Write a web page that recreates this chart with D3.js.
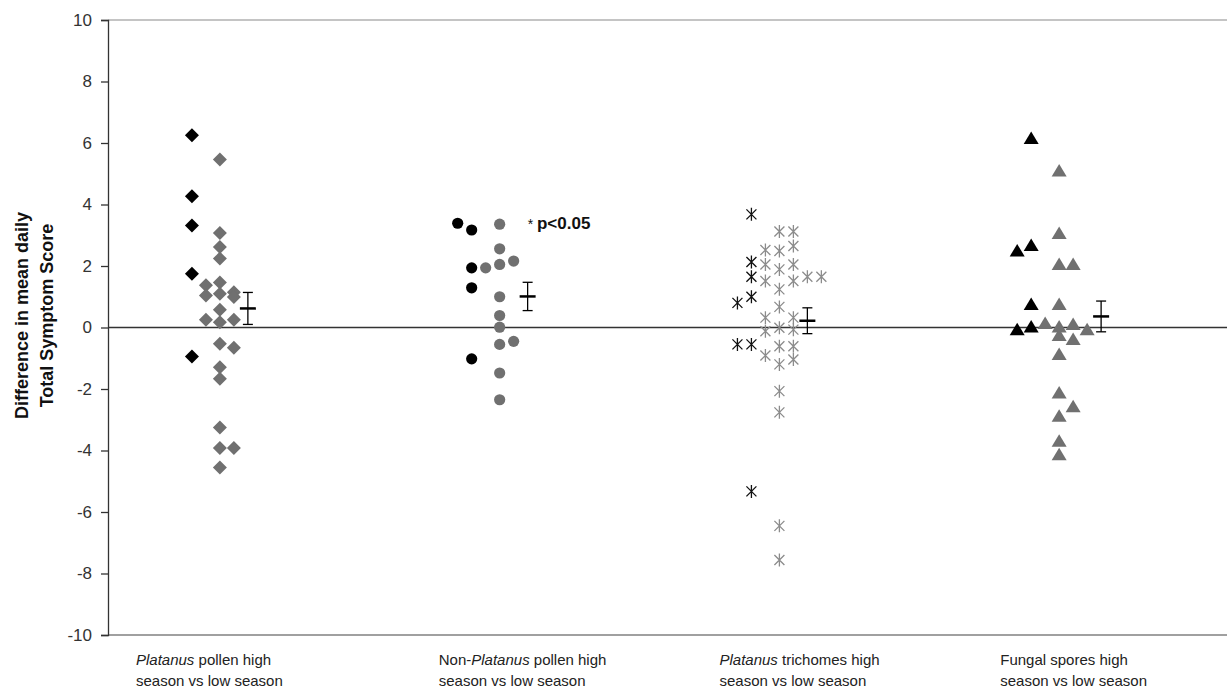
<!DOCTYPE html>
<html>
<head>
<meta charset="utf-8">
<script src="https://cdn.jsdelivr.net/npm/d3@7"></script>
<style>
  body { margin: 0; background: #fff; }
  text { font-family: Arial, "Liberation Sans", sans-serif; }
</style>
</head>
<body>
<script>
// category labels, _italic_ parts marked with underscores
var catLine1 = ["_Platanus_ pollen high", "Non-_Platanus_ pollen high", "_Platanus_ trichomes high", "Fungal spores high"];
var catLine2 = ["season vs low season", "season vs low season", "season vs low season", "season vs low season"];
var yTicks = [-10, -8, -6, -4, -2, 0, 2, 4, 6, 8, 10];

// points: [value, column in the dot strip]
var pollenBlack = [[6.25,-4],[4.27,-4],[3.32,-4],[1.75,-4],[-0.94,-4]];
var pollenGrey = [[5.46,-2],[3.07,-2],[2.62,-2],[2.24,-2],[1.37,-3],[1.46,-2],[1.04,-3],[1.10,-2],[1.15,-1],[0.99,-1],
  [0.58,-2],[0.25,-3],[0.17,-2],[0.25,-1],[-0.53,-2],[-0.66,-1],[-1.29,-2],[-1.67,-2],[-3.25,-2],[-3.92,-2],[-3.92,-1],[-4.55,-2]];

var nonPlatBlack = [[3.39,-5],[3.17,-4],[1.94,-4],[1.29,-4],[-1.02,-4]];
var nonPlatGrey = [[3.36,-2],[2.56,-2],[1.94,-3],[2.05,-2],[2.16,-1],[1.0,-2],[0.39,-2],[0.01,-2],[-0.55,-2],[-0.45,-1],[-1.48,-2],[-2.35,-2]];

var trichBlack = [[3.68,-4],[2.13,-4],[1.65,-4],[1.0,-4],[0.8,-5],[-0.55,-5],[-0.55,-4],[-5.33,-4]];
var trichGrey = [[3.12,-2],[3.12,-1],[2.52,-3],[2.49,-2],[2.65,-1],[2.05,-3],[1.89,-2],[2.05,-1],[1.65,0],[1.65,1],
  [1.51,-3],[1.51,-1],[1.24,-2],[0.67,-2],[0.32,-3],[0.32,-1],[-0.12,-3],[-0.01,-2],[-0.07,-1],[-0.61,-2],
  [-0.61,-1],[-0.91,-3],[-1.04,-1],[-1.2,-2],[-2.07,-2],[-2.76,-2],[-6.45,-2],[-7.56,-2]];

var fungalBlack = [[6.15,-4],[2.49,-5],[2.67,-4],[0.75,-4],[-0.07,-5],[0.02,-4]];
var fungalGrey = [[5.09,-2],[3.06,-2],[2.05,-2],[2.05,-1],[0.75,-2],[0.13,-3],[0.02,-2],[0.1,-1],[-0.07,0],
  [-0.26,-2],[-0.39,-1],[-0.88,-2],[-2.13,-2],[-2.58,-1],[-2.89,-2],[-3.7,-2],[-4.14,-2]];

var means = [0.62, 1.01, 0.22, 0.36];
var errs = [0.52, 0.46, 0.42, 0.50];
var meanCol = [0, 0, 0, 1];

var width = 1227, height = 690;
var margin = {left: 108, right: 0, top: 20, bottom: 55};

var svg = d3.select("body").append("svg")
  .attr("width", width).attr("height", height);

var x = d3.scaleBand().domain([0, 1, 2, 3]).range([margin.left, width - margin.right]);
var y = d3.scaleLinear().domain([-10, 10]).range([height - margin.bottom, margin.top]);
var colW = x.bandwidth() / 20;
function cx(i, col) { return x(i) + x.bandwidth() / 2 + col * colW; }

// frame lines
svg.append("line").attr("x1", x.range()[0]).attr("x2", width).attr("y1", y(10)).attr("y2", y(10))
  .attr("stroke", "#b0b0b0").attr("stroke-width", 1.3);
svg.append("line").attr("x1", x.range()[0]).attr("x2", width).attr("y1", y(-10)).attr("y2", y(-10))
  .attr("stroke", "#808080").attr("stroke-width", 1.3);

// y axis
var yAxis = svg.append("g").attr("transform", "translate(" + margin.left + ",0)")
  .call(d3.axisLeft(y).tickValues(yTicks).tickSize(7).tickPadding(9).tickFormat(function(d) { return String(d); }));
yAxis.select(".domain").attr("stroke", "#333").attr("stroke-width", 1.3);
yAxis.selectAll(".tick line").attr("stroke", "#333").attr("stroke-width", 1.3);
yAxis.selectAll(".tick text").attr("font-size", 17).attr("fill", "#333")
  .attr("font-family", "Arial, 'Liberation Sans', sans-serif");

// zero line
svg.append("line").attr("x1", margin.left).attr("x2", width).attr("y1", y(0)).attr("y2", y(0))
  .attr("stroke", "#333").attr("stroke-width", 1.3);

// y title
var yt = svg.append("text").attr("transform", "translate(22," + (y(0) - 12) + ") rotate(-90)")
  .attr("text-anchor", "middle").attr("font-weight", "bold").attr("font-size", 18).attr("fill", "#111");
yt.append("tspan").attr("x", 0).attr("dy", "0.35em").text("Difference in mean daily");
yt.append("tspan").attr("x", 0).attr("dy", 25).text("Total Symptom Score");

// category labels
var labelOffset = [28, 51, 52, 53];
catLine1.forEach(function(s, i) {
  var t = svg.append("text").attr("x", x(i) + labelOffset[i]).attr("y", 665)
    .attr("font-size", 15).attr("fill", "#222");
  s.split("_").forEach(function(part, k) {
    if (part) t.append("tspan").attr("font-style", k % 2 ? "italic" : "normal").text(part);
  });
  svg.append("text").attr("x", x(i) + labelOffset[i]).attr("y", 686)
    .attr("font-size", 15).attr("fill", "#222").text(catLine2[i]);
});

var grey = "#707070";
var greyStar = "#8c8c8c";

// markers
function diamond(g, data, i, fill) {
  g.selectAll(null).data(data).enter().append("path")
    .attr("d", "M0,-7L7,0L0,7L-7,0Z")
    .attr("transform", function(d) { return "translate(" + cx(i, d[1]) + "," + y(d[0]) + ")"; })
    .attr("fill", fill);
}
function circle(g, data, i, fill) {
  g.selectAll(null).data(data).enter().append("circle")
    .attr("cx", function(d) { return cx(i, d[1]); })
    .attr("cy", function(d) { return y(d[0]); })
    .attr("r", 5.6).attr("fill", fill);
}
function star(g, data, i, col) {
  g.selectAll(null).data(data).enter().append("path")
    .attr("d", "M-5,-5L5,5M-5,5L5,-5M0,-6.5L0,6.5")
    .attr("transform", function(d) { return "translate(" + cx(i, d[1]) + "," + y(d[0]) + ")"; })
    .attr("stroke", col).attr("stroke-width", 1.3).attr("fill", "none");
}
function triangle(g, data, i, fill) {
  g.selectAll(null).data(data).enter().append("path")
    .attr("d", "M0,-7L7.5,5.5L-7.5,5.5Z")
    .attr("transform", function(d) { return "translate(" + cx(i, d[1]) + "," + y(d[0]) + ")"; })
    .attr("fill", fill);
}

var pts = svg.append("g");
diamond(pts, pollenGrey, 0, grey);
diamond(pts, pollenBlack, 0, "#000");
circle(pts, nonPlatGrey, 1, grey);
circle(pts, nonPlatBlack, 1, "#000");
star(pts, trichGrey, 2, greyStar);
star(pts, trichBlack, 2, "#111");
triangle(pts, fungalGrey, 3, grey);
triangle(pts, fungalBlack, 3, "#000");

// mean +/- error bars
var eb = svg.append("g").attr("stroke", "#000").attr("fill", "none");
means.forEach(function(m, i) {
  var ex = cx(i, meanCol[i]);
  eb.append("line").attr("x1", ex).attr("x2", ex).attr("y1", y(m + errs[i])).attr("y2", y(m - errs[i])).attr("stroke-width", 1.3);
  eb.append("line").attr("x1", ex - 5).attr("x2", ex + 5).attr("y1", y(m + errs[i])).attr("y2", y(m + errs[i])).attr("stroke-width", 1.3);
  eb.append("line").attr("x1", ex - 5).attr("x2", ex + 5).attr("y1", y(m - errs[i])).attr("y2", y(m - errs[i])).attr("stroke-width", 1.3);
  eb.append("line").attr("x1", ex - 8).attr("x2", ex + 8).attr("y1", y(m)).attr("y2", y(m)).attr("stroke-width", 2.5);
});

// significance note
var sig = svg.append("text").attr("x", cx(1, 0)).attr("y", y(3.36) + 5)
  .attr("font-family", "'Liberation Serif', 'Times New Roman', serif").attr("font-size", 17).attr("fill", "#111");
sig.append("tspan").attr("font-size", 14).text("* ");
sig.append("tspan").attr("font-weight", "bold").text("p<0.05");
</script>
</body>
</html>
